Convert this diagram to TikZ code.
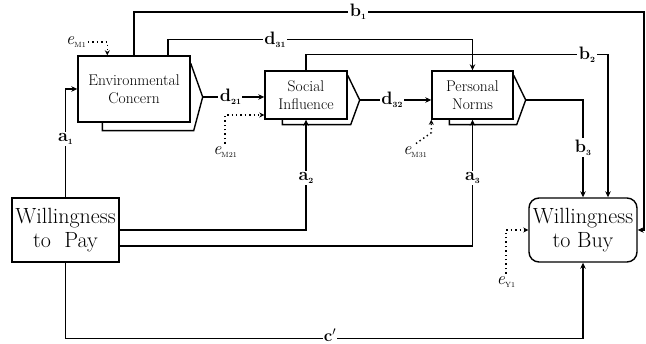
\documentclass[tikz,border=0pt]{standalone}
\usetikzlibrary{arrows.meta,calc}
\newcommand{\coef}[2]{\textbf{#1}\raisebox{-0.4ex}{\fontsize{8}{8}\selectfont\bfseries #2}}
\newcommand{\errterm}[1]{\textit{e}\raisebox{-0.3ex}{\fontsize{7.5}{7.5}\selectfont #1}}
\tikzset{
	box/.style={draw, line width=1.4pt, fill=white, align=center, inner sep=0pt,
				font=\fontsize{15.5}{18}\selectfont},
	bigbox/.style={box, font=\fontsize{22}{24}\selectfont},
	plate/.style={draw, line width=1.4pt},
	link/.style={line width=1.4pt, -{Stealth[length=6pt,width=5.5pt]}},
	noise/.style={line width=1.4pt, dash pattern=on 1.4pt off 3pt,
				  -{Stealth[length=5pt,width=5pt]}},
	coefl/.style={fill=white, inner sep=1.5pt, font=\fontsize{18}{18}\selectfont},
	errl/.style={inner sep=0pt, font=\fontsize{18}{18}\selectfont},
}
\begin{document}
\begin{tikzpicture}[x=1pt,y=-1pt]
	\useasboundingbox (0,0) rectangle (646,344);

	% the five constructs
	\node[box, minimum width=112pt, minimum height=66pt] (env) at (134,89) {Environmental\\Concern};
	\node[box, minimum width=82pt, minimum height=48pt] (soc) at (306,95) {Social\\Influence};
	\node[box, minimum width=81pt, minimum height=48pt] (pn) at (472.5,95) {Personal\\Norms};
	\node[bigbox, minimum width=107pt, minimum height=64pt] (wtp) at (65.5,230) {Willingness\\to~~Pay};
	\node[bigbox, rounded corners=10pt, minimum width=108pt, minimum height=64pt] (wtb) at (583,230) {Willingness\\to Buy};

	% plates behind the mediators
	\foreach \n/\dx/\dy in {env/25/8, soc/18/5, pn/18/5}
		\draw[plate] ($(\n.north east)+(0,\dy)$) -- ($(\n.east)+(12,\dy)$) coordinate (\n-tip)
			-- ($(\n.south east)+(3,\dy)$) -- ($(\n.south west)+(\dx,\dy)$) -- ($(\n.south west)+(\dx,0)$);

	% paths
	\draw[link] (wtp.north) |- node[coefl, pos=0.27] (la1) {\coef{a}{1}} (env.west);
	\draw[link] (env-tip) -- node[coefl, pos=0.45] (ld21) {\coef{d}{21}} (env-tip -| soc.west);
	\draw[link] (soc-tip) -- node[coefl, pos=0.45] (ld32) {\coef{d}{32}} (soc-tip -| pn.west);
	\draw[link] (pn-tip) -| node[coefl, pos=0.745] (lb3) {\coef{b}{3}} (wtb.north);
	\draw[link] (wtp.east) -| node[coefl, pos=0.735] (la2) {\coef{a}{2}} (soc.south);
	\draw[link] ($(wtp.east)+(0,16)$) -| node[coefl, pos=0.77] (la3) {\coef{a}{3}} (pn.south);

	\draw[link] (soc.north) -- ++(0,-16) -| ($(wtb.north)+(25,0)$);
	\node[coefl] (lb2) at (587,55) {\coef{b}{2}};

	\draw[link] ($(env.north west)!0.8!(env.north east)$) -- ++(0,-16) -| (pn.north);
	\node[coefl] (ld31) at (275,40) {\coef{d}{31}};

	\coordinate (rim) at (644,12);
	\draw[link] (env.north) |- (rim) |- (wtb.east);
	\node[coefl] (lb1) at (358,12) {\coef{b}{1}};

	\draw[link] (wtp.south) -- ++(0,76) -| (wtb.south);
	\node[coefl, inner sep=0.5pt, font=\fontsize{17}{17}\selectfont] (lc) at (330,335) {\textbf{c$'$}};

	% error terms
	\node[errl] (e1) at (76,42) {\errterm{M1}};
	\node[errl] (e2) at (225,152) {\errterm{M21}};
	\node[errl] (e3) at (415,152) {\errterm{M31}};
	\node[errl] (e4) at (506,282) {\errterm{Y1}};
	\draw[noise] ($(e1.east)+(2,0)$) -| ($(env.north west)+(30,0)$);
	\draw[noise] ($(e2.north)+(0,-3)$) |- ($(soc.west)+(0,20)$);
	\draw[noise] ($(e3.north)+(1,-3)$) -- ($(pn.south west)+(0,13)$) -- (pn.south west);
	\draw[noise] ($(e4.north)+(0,-3)$) |- (wtb.west);
\end{tikzpicture}
\end{document}
